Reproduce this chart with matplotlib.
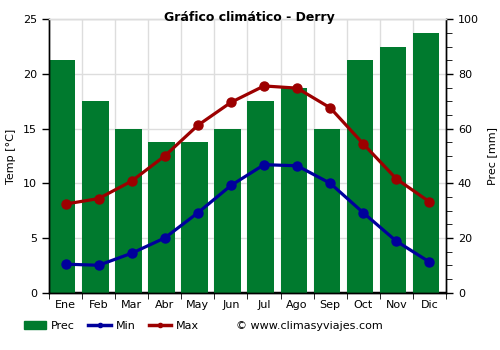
import matplotlib.pyplot as plt
import matplotlib.lines as mlines
import matplotlib.patches as mpatches
import numpy as np

months = ['Ene', 'Feb', 'Mar', 'Abr', 'May', 'Jun', 'Jul', 'Ago', 'Sep', 'Oct', 'Nov', 'Dic']
prec = [85, 70, 60, 55, 55, 60, 70, 75, 60, 85, 90, 95]
tmin = [2.6, 2.5, 3.6, 5.0, 7.3, 9.8, 11.7, 11.6, 10.0, 7.3, 4.7, 2.8]
tmax = [8.1, 8.6, 10.2, 12.5, 15.3, 17.4, 18.9, 18.7, 16.9, 13.6, 10.4, 8.3]

green = '#007a2e'
blue = '#00009c'
red = '#9c0000'

fig = plt.figure(figsize=(5, 3.5), dpi=100)
ax = fig.add_axes([0.098, 0.164, 0.794, 0.781])
ax2 = ax.twinx()

x = np.arange(len(months))

# precipitation bars on the right axis, drawn behind the temperature lines
ax2.bar(x - 0.1, prec, width=0.8, color=green, zorder=2)
ax2.axhline(0, color='black', lw=2.5, zorder=1)
ax2.set_ylim(0, 100)
ax2.set_yticks(range(0, 101, 20))
ax2.set_yticks(range(0, 101, 5), minor=True)
ax2.set_ylabel('Prec [mm]', fontsize=8, labelpad=6)

ax.set_zorder(ax2.get_zorder() + 1)
ax.patch.set_visible(False)
ax.plot(x, tmin, color=blue, lw=2.3, marker='o', ms=6.5)
ax.plot(x, tmax, color=red, lw=2.3, marker='o', ms=6.5)
ax.set_ylim(0, 25)
ax.set_xlim(-0.5, 11.5)
ax.set_yticks(range(0, 26, 5))
ax.set_xticks(x)
ax.set_xticklabels(months)
ax.set_xticks(np.arange(-0.5, 12, 1), minor=True)
ax.tick_params(axis='x', which='major', length=0, pad=5)
ax.tick_params(axis='x', which='minor', length=4)
ax.set_ylabel('Temp [°C]', fontsize=8, labelpad=5)

# grid lines live on the back axis so bars cover them
for v in range(5, 26, 5):
    ax2.axhline(v * 4, color='#dddddd', lw=1, zorder=0)
for v in np.arange(0.5, 11.5, 1):
    ax2.axvline(v, color='#dddddd', lw=1, zorder=0)

for a in (ax, ax2):
    a.tick_params(labelsize=8, width=1)
    for s in a.spines.values():
        s.set_linewidth(1)
    a.spines['top'].set_color('#dddddd')
ax2.tick_params(axis='y', which='minor', length=4)
ax2.tick_params(axis='y', which='major', length=5)
ax.tick_params(axis='y', length=5)

fig.text(0.498, 0.95, 'Gráfico climático - Derry', fontsize=9, fontweight='bold',
         ha='center', va='center')

handles = [
    mpatches.Patch(color=green, label='Prec'),
    mlines.Line2D([], [], color=blue, lw=2.5, marker='o', ms=3, label='Min'),
    mlines.Line2D([], [], color=red, lw=2.5, marker='o', ms=3, label='Max'),
]
fig.legend(handles=handles, loc='center left', bbox_to_anchor=(0.048, 0.068), ncol=3,
           frameon=False, fontsize=8, handlelength=2.0, columnspacing=1.2,
           handletextpad=0.45, borderaxespad=0, borderpad=0)
fig.text(0.472, 0.068, '© www.climasyviajes.com', fontsize=8, va='center')

fig.savefig('out.png', dpi=100)
